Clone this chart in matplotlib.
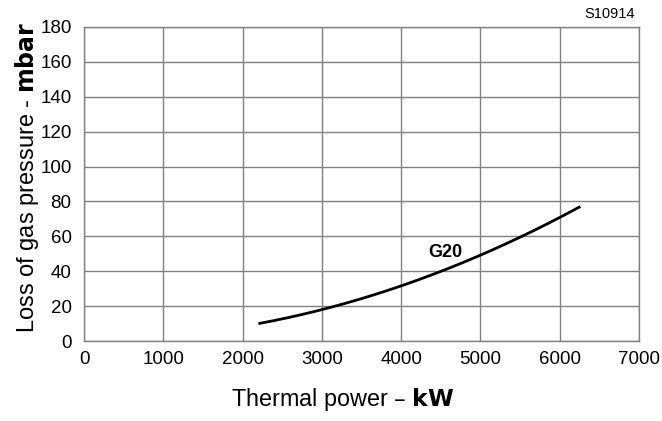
import matplotlib
matplotlib.use("Agg")
import matplotlib.pyplot as plt
import numpy as np

plt.rcParams['font.family'] = ['Liberation Sans', 'DejaVu Sans']

power_kw = [2200, 3000, 4000, 5000, 6000, 6260]
pressure_mbar = [9.6, 18.7, 31.5, 48.7, 71.2, 77.0]
x_ticks = [0, 1000, 2000, 3000, 4000, 5000, 6000, 7000]
y_ticks = [0, 20, 40, 60, 80, 100, 120, 140, 160, 180]

fig = plt.figure(figsize=(6.62, 4.21), dpi=100)
ax = fig.add_axes([0.1269, 0.19, 0.8384, 0.7459])

# smooth curve through read points
xs = np.array(power_kw, dtype=float)
ys = np.array(pressure_mbar, dtype=float)
coef = np.polyfit(xs, ys, 2)
xx = np.linspace(xs[0], xs[-1], 200)
ax.plot(xx, np.polyval(coef, xx), color='black', lw=2.0, solid_capstyle='butt')

ax.text(4560, 50.6, 'G20', fontsize=13, fontweight='bold', ha='center', va='center')

ax.set_xlim(0, 7000)
ax.set_ylim(0, 180)
ax.set_xticks(x_ticks)
ax.set_yticks(y_ticks)
ax.grid(True, color='#808080', lw=1.0)
ax.set_axisbelow(True)
for s in ax.spines.values():
    s.set_color('#808080')
    s.set_linewidth(1.0)
ax.tick_params(length=0, labelsize=13.5)
ax.tick_params(axis='y', pad=9)
ax.tick_params(axis='x', pad=7)

ax.set_xlabel('Thermal power – $\\bf{kW}$', fontsize=16.8)
ax.set_ylabel('Loss of gas pressure - $\\bf{mbar}$', fontsize=17)
ax.xaxis.set_label_coords(0.465, -0.143)
ax.yaxis.set_label_coords(-0.078, 0.522)

fig.text(0.921, 0.967, 'S10914', fontsize=10.5, ha='center', va='center')

fig.savefig('out.png', dpi=100)
